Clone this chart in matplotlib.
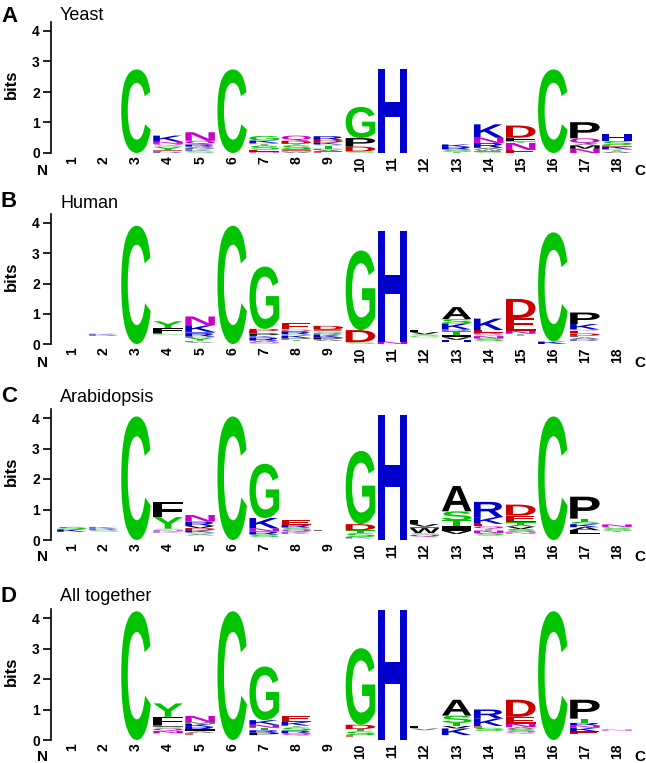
import matplotlib
matplotlib.use('Agg')
import matplotlib.pyplot as plt
from matplotlib.textpath import TextPath
from matplotlib.patches import PathPatch
from matplotlib.font_manager import FontProperties
from matplotlib.transforms import Affine2D

plt.rcParams['font.family'] = ['Liberation Sans', 'DejaVu Sans']

positions = list(range(1, 19))
panel_tags = ['A', 'B', 'C', 'D']
panel_titles = ['Yeast', 'Human', 'Arabidopsis', 'All together']

# each position: letters from bottom to top with height in bits
# '' = many tiny residues that are too small to be drawn
yeast = [
    [], [],
    [('C', 2.74)],
    [('R', 0.04), ('E', 0.05), ('Y', 0.11), ('S', 0.04), ('Q', 0.06), ('N', 0.07), ('K', 0.2)],
    [('S', 0.06), ('K', 0.06), ('P', 0.05), ('A', 0.04), ('R', 0.07), ('Q', 0.12), ('N', 0.28)],
    [('C', 2.74)],
    [('N', 0.04), ('E', 0.07), ('S', 0.13), ('T', 0.05), ('D', 0.04), ('K', 0.08), ('G', 0.15)],
    [('A', 0.04), ('N', 0.04), ('E', 0.04), ('S', 0.13), ('T', 0.05), ('D', 0.1), ('Q', 0.17)],
    [('E', 0.05), ('A', 0.05), ('P', 0.04), ('T', 0.1), ('S', 0.04), ('K', 0.07), ('D', 0.08), ('R', 0.12)],
    [('S', 0.05), ('D', 0.16), ('P', 0.28), ('G', 1.02)],
    [('H', 2.76)],
    [],
    [('T', 0.04), ('S', 0.08), ('R', 0.08), ('K', 0.08)],
    [('S', 0.03), ('E', 0.04), ('W', 0.05), ('A', 0.05), ('R', 0.16), ('N', 0.17), ('K', 0.44)],
    [('E', 0.1), ('N', 0.23), ('T', 0.05), ('F', 0.12), ('D', 0.4)],
    [('C', 2.74)],
    [('N', 0.14), ('M', 0.11), ('A', 0.04), ('Q', 0.19), ('P', 0.53)],
    [('A', 0.05), ('T', 0.05), ('N', 0.03), ('K', 0.08), ('E', 0.05), ('S', 0.13), ('H', 0.22)],
]

human = [
    [],
    [('', 0.27), ('R', 0.03), ('K', 0.04)],
    [('C', 3.91)],
    [('', 0.3), ('S', 0.03), ('L', 0.04), ('F', 0.16), ('Y', 0.22)],
    [('', 0.04), ('A', 0.03), ('E', 0.04), ('Y', 0.1), ('P', 0.04), ('R', 0.11), ('H', 0.04), ('K', 0.22), ('N', 0.29)],
    [('C', 3.91)],
    [('S', 0.03), ('N', 0.03), ('A', 0.05), ('R', 0.1), ('K', 0.06), ('P', 0.08), ('E', 0.08), ('D', 0.07), ('G', 2.06)],
    [('', 0.1), ('T', 0.04), ('P', 0.06), ('K', 0.08), ('S', 0.04), ('R', 0.1), ('D', 0.06), ('E', 0.2)],
    [('', 0.1), ('A', 0.05), ('P', 0.07), ('K', 0.08), ('R', 0.06), ('S', 0.06), ('E', 0.06), ('D', 0.12)],
    [('S', 0.06), ('D', 0.4), ('G', 2.63)],
    [('N', 0.08), ('H', 3.64)],
    [('', 0.22), ('G', 0.05), ('S', 0.05), ('V', 0.07), ('L', 0.08)],
    [('', 0.05), ('H', 0.09), ('V', 0.08), ('I', 0.08), ('T', 0.13), ('R', 0.05), ('K', 0.2), ('S', 0.14), ('A', 0.4)],
    [('', 0.1), ('S', 0.08), ('N', 0.08), ('Q', 0.06), ('R', 0.06), ('E', 0.08), ('K', 0.38)],
    [('', 0.28), ('T', 0.06), ('N', 0.1), ('E', 0.42), ('D', 0.63)],
    [('K', 0.08), ('C', 3.61)],
    [('', 0.1), ('R', 0.06), ('A', 0.06), ('L', 0.05), ('D', 0.08), ('E', 0.09), ('Q', 0.04), ('K', 0.18), ('P', 0.38)],
    [],
]

arabidopsis = [
    [('', 0.27), ('K', 0.08), ('S', 0.08)],
    [('', 0.27), ('S', 0.05), ('R', 0.05), ('K', 0.06)],
    [('C', 4.05)],
    [('', 0.24), ('K', 0.04), ('N', 0.05), ('S', 0.04), ('Y', 0.38), ('F', 0.5)],
    [('', 0.15), ('A', 0.04), ('S', 0.06), ('K', 0.07), ('D', 0.07), ('V', 0.07), ('R', 0.14), ('N', 0.22)],
    [('C', 4.05)],
    [('', 0.1), ('S', 0.08), ('R', 0.1), ('N', 0.1), ('K', 0.34), ('G', 1.78)],
    [('', 0.2), ('K', 0.06), ('Q', 0.07), ('S', 0.08), ('R', 0.08), ('E', 0.16)],
    [('', 0.3), ('L', 0.04)],
    [('', 0.05), ('K', 0.05), ('S', 0.12), ('T', 0.1), ('D', 0.2), ('G', 2.4)],
    [('H', 4.09)],
    [('', 0.1), ('Q', 0.07), ('S', 0.06), ('W', 0.16), ('I', 0.05), ('V', 0.08), ('L', 0.12)],
    [('', 0.2), ('V', 0.1), ('I', 0.17), ('T', 0.17), ('S', 0.3), ('A', 0.83)],
    [('', 0.15), ('S', 0.08), ('N', 0.08), ('T', 0.06), ('Q', 0.08), ('E', 0.08), ('K', 0.22), ('R', 0.5)],
    [('', 0.2), ('N', 0.06), ('S', 0.1), ('V', 0.08), ('A', 0.06), ('T', 0.08), ('E', 0.22), ('D', 0.36)],
    [('C', 4.05)],
    [('', 0.2), ('L', 0.12), ('A', 0.1), ('K', 0.1), ('S', 0.08), ('T', 0.1), ('P', 0.72)],
    [('', 0.25), ('T', 0.05), ('S', 0.08), ('G', 0.05), ('N', 0.08)],
]

together = [
    [], [],
    [('C', 4.22)],
    [('', 0.22), ('N', 0.08), ('Q', 0.08), ('S', 0.06), ('L', 0.06), ('F', 0.26), ('Y', 0.44)],
    [('', 0.17), ('E', 0.06), ('A', 0.05), ('I', 0.07), ('R', 0.08), ('K', 0.1), ('M', 0.06), ('N', 0.2)],
    [('C', 4.22)],
    [('', 0.16), ('P', 0.08), ('R', 0.08), ('T', 0.08), ('N', 0.1), ('K', 0.15), ('G', 1.76)],
    [('', 0.15), ('Q', 0.08), ('R', 0.08), ('S', 0.1), ('T', 0.06), ('K', 0.12), ('E', 0.2)],
    [],
    [('', 0.1), ('E', 0.06), ('S', 0.12), ('T', 0.08), ('D', 0.14), ('G', 2.51)],
    [('H', 4.27)],
    [('', 0.32), ('V', 0.06), ('L', 0.08)],
    [('', 0.16), ('K', 0.22), ('V', 0.08), ('T', 0.1), ('S', 0.24), ('A', 0.52)],
    [('', 0.3), ('S', 0.1), ('E', 0.06), ('K', 0.24), ('R', 0.3)],
    [('', 0.2), ('Q', 0.06), ('S', 0.1), ('A', 0.06), ('N', 0.12), ('E', 0.22), ('D', 0.56)],
    [('C', 4.22)],
    [('', 0.2), ('E', 0.08), ('K', 0.12), ('N', 0.08), ('R', 0.08), ('T', 0.14), ('P', 0.62)],
    [('', 0.3), ('N', 0.05)],
]

panels = [yeast, human, arabidopsis, together]

# chemistry colour scheme
colors = {}
for aa in 'GSTYC':
    colors[aa] = '#00C400'
for aa in 'NQ':
    colors[aa] = '#CC00CC'
for aa in 'KRH':
    colors[aa] = '#0000CC'
for aa in 'DE':
    colors[aa] = '#CC0000'
for aa in 'AVLIPWFM':
    colors[aa] = '#000000'

logo_font = FontProperties(family='Liberation Sans', weight='bold')


def draw_letter(ax, letter, x, y, w, h):
    tp = TextPath((0, 0), letter, size=1, prop=logo_font)
    bb = tp.get_extents()
    t = Affine2D().translate(-bb.x0, -bb.y0).scale(w / bb.width, h / bb.height).translate(x - w / 2, y)
    # tiny letters come out pale in the original
    a = 1.0 if h >= 0.07 else 0.6
    ax.add_patch(PathPatch(t.transform_path(tp), fc=colors[letter], ec='none', alpha=a, clip_on=False))


W, H = 646, 763
fig = plt.figure(figsize=(W / 100, H / 100), dpi=100)

zero_px = [153, 344, 540, 740]
bit_px = [30.5, 30.25, 30.5, 30.5]
tag_base = [22, 207, 402, 602]
title_base = [20, 208, 402, 601]
end_off = [22, 23, 21, 21]
ymax = 4.3

for i, stacks in enumerate(panels):
    ax = fig.add_axes([51 / W, (H - zero_px[i]) / H, 582 / W, ymax * bit_px[i] / H])
    ax.set_xlim(0.35, 18.5)
    ax.set_ylim(0, ymax)
    for p, stack in zip(positions, stacks):
        y = 0
        for letter, h in stack:
            if letter:
                draw_letter(ax, letter, p, y, 0.92, h)
            y += h
    for s in ['top', 'right', 'bottom']:
        ax.spines[s].set_visible(False)
    ax.spines['left'].set_linewidth(1.2)
    ax.set_yticks(range(5))
    ax.set_yticklabels([str(v) for v in range(5)], fontsize=10, fontweight='bold')
    ax.tick_params(axis='y', length=6, width=1.2, pad=2)
    ax.set_xticks(positions)
    ax.set_xticklabels([str(p) for p in positions], rotation=90, fontsize=10, fontweight='bold')
    ax.tick_params(axis='x', length=0, pad=2.5)
    ax.set_ylabel('bits', fontsize=12, fontweight='bold')
    ax.yaxis.set_label_coords(-0.055, 0.52)

    fig.text(1 / W, 1 - tag_base[i] / H, panel_tags[i], fontsize=16, fontweight='bold', va='baseline')
    fig.text(60 / W, 1 - title_base[i] / H, panel_titles[i], fontsize=13, va='baseline')
    fig.text(43 / W, 1 - (zero_px[i] + end_off[i]) / H, 'N', fontsize=11, fontweight='bold', ha='center', va='baseline')
    fig.text(640 / W, 1 - (zero_px[i] + end_off[i]) / H, 'C', fontsize=11, fontweight='bold', ha='center', va='baseline')

fig.savefig('out.png', dpi=100)
